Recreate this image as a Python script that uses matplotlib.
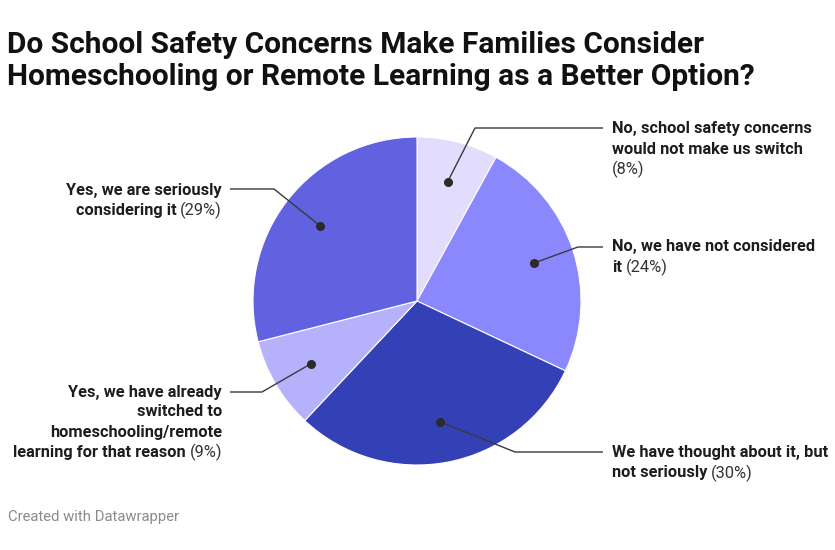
import matplotlib
matplotlib.use("Agg")
import matplotlib.pyplot as plt
import numpy as np

plt.rcParams['font.family'] = ['Roboto', 'DejaVu Sans']

# ---- data ----
categories = [
    "No, school safety concerns would not make us switch",
    "No, we have not considered it",
    "We have thought about it, but not seriously",
    "Yes, we have already switched to homeschooling/remote learning for that reason",
    "Yes, we are seriously considering it",
]
values = [8, 24, 30, 9, 29]
colors = ["#e2dcfd", "#8b87fd", "#3440b5", "#b5b1fb", "#6162e0"]
label_lines = [
    ["No, school safety concerns", "would not make us switch", ""],
    ["No, we have not considered", "it"],
    ["We have thought about it, but", "not seriously"],
    ["Yes, we have already", "switched to", "homeschooling/remote", "learning for that reason"],
    ["Yes, we are seriously", "considering it"],
]
title_lines = ["Do School Safety Concerns Make Families Consider",
               "Homeschooling or Remote Learning as a Better Option?"]
footer = "Created with Datawrapper"

W, H = 835, 550
fig = plt.figure(figsize=(W / 100, H / 100), dpi=100)
fig.patch.set_facecolor("white")
ax = fig.add_axes([0, 0, 1, 1])

def Y(y):
    return H - y

cx, cy, R = 417, 301, 164
wedges, _ = ax.pie(values, colors=colors, startangle=90, counterclock=False,
                   center=(cx, Y(cy)), radius=R, frame=True,
                   wedgeprops=dict(edgecolor="white", linewidth=0.8))
ax.set_xlim(0, W)
ax.set_ylim(0, H)
ax.axis("off")

# label layout: (elbow x, elbow y, end x, text x, align, first line y)
layout = [
    (475, 128, 603, 612, "left", 129),
    (578, 247, 603, 612, "left", 247),
    (515, 452, 603, 612, "left", 453),
    (262, 392, 230, 222, "right", 392),
    (274, 189, 230, 222, "right", 190),
]

fig.canvas.draw()
renderer = fig.canvas.get_renderer()
FS = 11.8
LH = 20.0
txtcol = "#1d1d1d"
linecol = "#3a3a3a"

for i, w in enumerate(wedges):
    ang = np.deg2rad((w.theta1 + w.theta2) / 2)
    dx = cx + 0.75 * R * np.cos(ang)
    dy = Y(cy) + 0.75 * R * np.sin(ang)
    ex, ey, endx, tx, ha, ty = layout[i]
    ax.plot([dx, ex, endx], [dy, Y(ey), Y(ey)], color=linecol, lw=1.0,
            solid_capstyle="butt", zorder=5)
    ax.plot([dx], [dy], "o", color="#2b2b2b", ms=5.5, zorder=6)
    lines = label_lines[i]
    pct = f"({values[i]}%)"
    for j, ln in enumerate(lines):
        yy = Y(ty + j * LH)
        last = j == len(lines) - 1
        if not last:
            ax.text(tx, yy, ln, ha=ha, va="center", fontsize=FS,
                    fontweight="bold", color=txtcol)
        else:
            if ha == "left":
                if ln:
                    t = ax.text(tx, yy, ln, ha="left", va="center", fontsize=FS,
                                fontweight="bold", color=txtcol)
                    bw = t.get_window_extent(renderer).width
                    ax.text(tx + bw + 4, yy, pct, ha="left", va="center",
                            fontsize=FS, color="#333333")
                else:
                    ax.text(tx, yy, pct, ha="left", va="center",
                            fontsize=FS, color="#333333")
            else:
                t = ax.text(tx, yy, pct, ha="right", va="center", fontsize=FS,
                            color="#333333")
                pw = t.get_window_extent(renderer).width
                ax.text(tx - pw - 4, yy, ln, ha="right", va="center",
                        fontsize=FS, fontweight="bold", color=txtcol)

for k, tl in enumerate(title_lines):
    ax.text(7, Y(45 + 32 * k), tl, ha="left", va="center", fontsize=21.5,
            fontweight="bold", color="#111111")
ax.text(8, Y(517), footer, ha="left", va="center", fontsize=10.7,
        color="#8a8a8a")

fig.savefig("out.png", dpi=100, facecolor="white")
